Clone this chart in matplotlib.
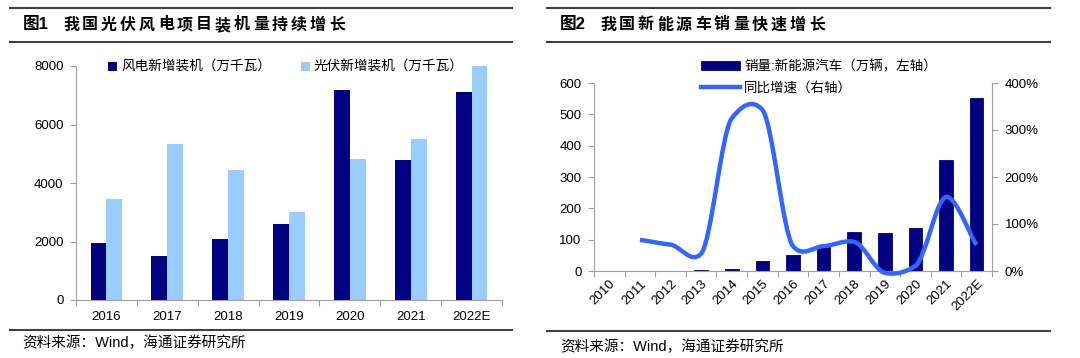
import matplotlib

matplotlib.use("Agg")
import matplotlib.pyplot as plt
from matplotlib.lines import Line2D
from matplotlib.patches import PathPatch
from matplotlib.path import Path
from matplotlib.ticker import FuncFormatter

plt.rcParams["font.family"] = ["Liberation Sans", "Noto Sans CJK SC"]

# figure 1: installed capacity (10k kW)
years1 = ["2016", "2017", "2018", "2019", "2020", "2021", "2022E"]
wind = [1950, 1516, 2074, 2600, 7180, 4775, 7120]
solar = [3460, 5322, 4444, 3020, 4830, 5500, 8000]

# figure 2: NEV sales (10k units) and yoy growth
years2 = ["2010", "2011", "2012", "2013", "2014", "2015", "2016",
          "2017", "2018", "2019", "2020", "2021", "2022E"]
sales = [0.7, 0.8, 1.3, 1.8, 7.5, 33.1, 51, 77.7, 126, 121, 138, 354, 552]
growth_years = years2[1:]
growth = [0.66, 0.56, 0.37, 3.25, 3.43, 0.53, 0.53, 0.62, -0.04, 0.11, 1.575, 0.56]

NAVY = "#000080"
LIGHT = "#99CCFF"
LINE = "#3366FF"
SPINE = "#A0A0A0"
RULE = "#404040"
SMOOTH = 0.09

fig = plt.figure(figsize=(10.8, 3.58), dpi=100)


def frame(x0, x1, title_num, title, src_y):
    for y in (1 - 8 / 358, 1 - 42 / 358, src_y):
        fig.add_artist(Line2D([x0, x1], [y, y], color=RULE, lw=1.5,
                              transform=fig.transFigure))
    fig.text(x0 + 13 / 1080, 1 - 25 / 358, title_num, fontsize=12,
             fontweight="bold", va="center")
    # title characters are spread out in the original
    for i, ch in enumerate(title):
        fig.text(x0 + (61 + i * 19) / 1080, 1 - 25 / 358, ch, fontsize=11.5,
                 fontweight="bold", va="center", ha="center")


def style_axes(ax, n):
    for s in ("top", "right"):
        ax.spines[s].set_visible(False)
    for s in ("left", "bottom"):
        ax.spines[s].set_color(SPINE)
    ax.set_xlim(-0.5, n - 0.5)
    ax.set_xticks([i - 0.5 for i in range(n + 1)])
    ax.set_xticklabels([])
    ax.tick_params(axis="x", which="major", length=4, color=SPINE)
    ax.tick_params(axis="y", length=4, color=SPINE, labelsize=9.5, pad=5)


# ---- left chart
frame(10 / 1080, 512 / 1080, "图1", "我国光伏风电项目装机量持续增长", 1 - 330 / 358)
ax1 = fig.add_axes([76 / 1080, 1 - 300 / 358, 426 / 1080, 234 / 358])
x1 = range(len(years1))
b1 = ax1.bar([i - 0.13 for i in x1], wind, width=0.26, color=NAVY,
             label="风电新增装机（万千瓦）")
b2 = ax1.bar([i + 0.13 for i in x1], solar, width=0.26, color=LIGHT,
             label="光伏新增装机（万千瓦）")
style_axes(ax1, len(years1))
ax1.set_ylim(0, 8000)
ax1.set_yticks(range(0, 8001, 2000))
ax1.set_xticks(list(x1), minor=True)
ax1.set_xticklabels(years1, minor=True, fontsize=9.5)
ax1.tick_params(axis="x", which="minor", length=0, pad=8)
ax1.legend(handles=[b1, b2], loc="center left", ncol=2, frameon=False,
           bbox_to_anchor=(108 / 1080, 1 - 67 / 358), bbox_transform=fig.transFigure,
           fontsize=9.8, handlelength=0.65, handleheight=0.65, handletextpad=0.3,
           columnspacing=2.2, borderaxespad=0, borderpad=0)
fig.text(22 / 1080, 1 - 343 / 358, "资料来源：Wind，海通证券研究所", fontsize=10.5,
         va="center")

# ---- right chart
frame(547 / 1080, 1050 / 1080, "图2", "我国新能源车销量快速增长", 1 - 331 / 358)
ax2 = fig.add_axes([594 / 1080, 1 - 271 / 358, 398 / 1080, 188 / 358])
x2 = list(range(len(years2)))
bars = ax2.bar(x2, sales, width=0.44, color=NAVY, edgecolor=NAVY, linewidth=0.6)
style_axes(ax2, len(years2))
ax2.set_ylim(0, 600)
ax2.set_yticks(range(0, 601, 100))
ax2.set_xticks(x2, minor=True)
ax2.set_xticklabels(years2, minor=True, fontsize=9.5, rotation=45,
                    ha="right", rotation_mode="anchor")
ax2.tick_params(axis="x", which="minor", length=0, pad=5)

ax3 = ax2.twinx()
for s in ("top", "left", "bottom"):
    ax3.spines[s].set_visible(False)
ax3.spines["right"].set_color(SPINE)
ax3.set_ylim(0, 4)
ax3.set_yticks([0, 1, 2, 3, 4])
ax3.yaxis.set_major_formatter(FuncFormatter(lambda v, _: f"{v * 100:.0f}%"))
ax3.tick_params(axis="y", length=4, color=SPINE, labelsize=9.5, pad=5)

# smoothed line drawn as a Bezier path through the data points
gx = [years2.index(y) for y in growth_years]
pts = list(zip(gx, growth))
verts = [pts[0]]
codes = [Path.MOVETO]
for i in range(len(pts) - 1):
    p0 = pts[max(i - 1, 0)]
    p1 = pts[i]
    p2 = pts[i + 1]
    p3 = pts[min(i + 2, len(pts) - 1)]
    c1 = (p1[0] + (p2[0] - p0[0]) / 6, p1[1] + (p2[1] - p0[1]) * SMOOTH)
    c2 = (p2[0] - (p3[0] - p1[0]) / 6, p2[1] - (p3[1] - p1[1]) * SMOOTH)
    verts += [c1, c2, p2]
    codes += [Path.CURVE4] * 3
ax3.add_patch(PathPatch(Path(verts, codes), fill=False, edgecolor=LINE,
                        lw=3.2, capstyle="butt", clip_on=False))

line_handle = Line2D([], [], color=LINE, lw=3.2)
ax2.legend(handles=[bars, line_handle],
           labels=["销量:新能源汽车（万辆，左轴）", "同比增速（右轴）"],
           loc="upper left", frameon=False, fontsize=9.7,
           bbox_to_anchor=(701 / 1080, 1 - 60 / 358), bbox_transform=fig.transFigure,
           handlelength=2.9, handleheight=0.7, handletextpad=0.3,
           labelspacing=0.6, borderaxespad=0, borderpad=0)
fig.text(560 / 1080, 1 - 347 / 358, "资料来源：Wind，海通证券研究所", fontsize=10.5,
         va="center")

fig.savefig("out.png", dpi=100)
